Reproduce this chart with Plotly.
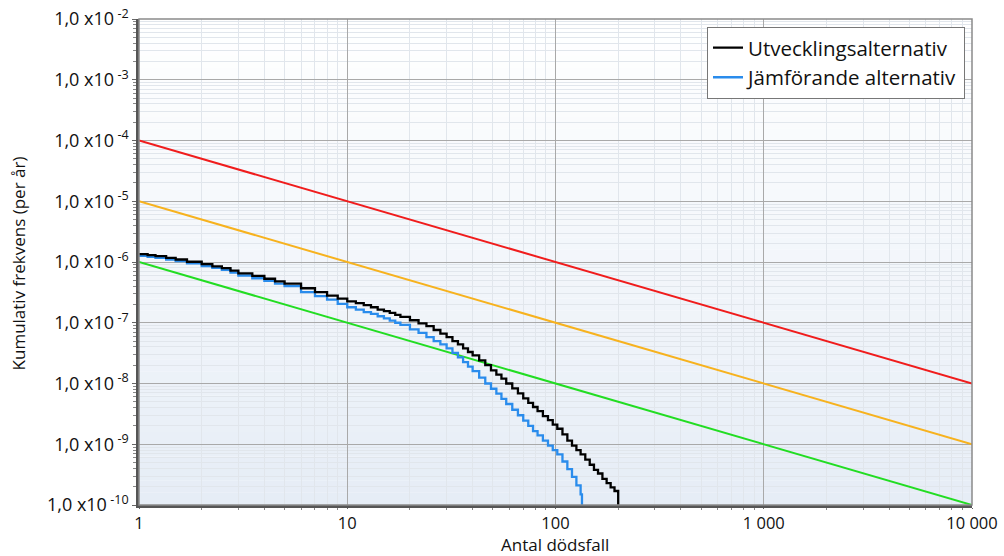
import plotly.graph_objects as go

# ---------------- data ----------------
black_x = [1, 1.1, 1.2, 1.35, 1.5, 1.7, 2, 2.25, 2.5, 2.75, 3, 3.5, 4, 4.5, 5, 6, 7, 8, 9, 10, 11, 12, 13,
           14, 15, 16, 17, 18, 20, 22, 24, 26, 28, 30, 32, 34, 36, 38, 40, 43, 46, 49, 52, 55, 58, 62,
           66, 70, 74, 78, 82, 87, 92, 97, 102, 108, 114, 120, 126, 132, 139, 146, 153, 160, 168, 176,
           184, 192, 200]
black_y = [1.35e-6, 1.30e-6, 1.25e-6, 1.17e-6, 1.10e-6, 1.01e-6, 9.2e-7, 8.5e-7, 7.9e-7, 7.2e-7, 6.5e-7,
           5.9e-7, 5.3e-7, 4.8e-7, 4.4e-7, 3.7e-7, 3.2e-7, 2.8e-7, 2.5e-7, 2.25e-7, 2.1e-7, 1.95e-7,
           1.8e-7, 1.65e-7, 1.55e-7, 1.45e-7, 1.35e-7, 1.25e-7, 1.1e-7, 9.8e-8, 8.8e-8, 7.6e-8, 6.6e-8,
           5.8e-8, 5.0e-8, 4.4e-8, 3.8e-8, 3.3e-8, 2.9e-8, 2.4e-8, 2.0e-8, 1.65e-8, 1.4e-8, 1.2e-8,
           1.0e-8, 8.3e-9, 6.9e-9, 5.7e-9, 4.8e-9, 4.1e-9, 3.5e-9, 2.9e-9, 2.5e-9, 2.1e-9, 1.8e-9,
           1.45e-9, 1.15e-9, 9.5e-10, 8.0e-10, 6.8e-10, 5.6e-10, 4.6e-10, 3.8e-10, 3.3e-10, 2.7e-10,
           2.3e-10, 1.95e-10, 1.7e-10, 1.0e-10]

blue_x = [1, 1.1, 1.2, 1.35, 1.5, 1.7, 2, 2.25, 2.5, 2.75, 3, 3.5, 4, 4.5, 5, 6, 7, 8, 9, 10, 11, 12, 13,
          14, 15, 16, 17, 18, 20, 22, 24, 26, 28, 30, 32, 34, 36, 38, 40, 43, 46, 49, 52, 55, 58, 62,
          66, 70, 74, 78, 82, 87, 92, 97, 102, 108, 114, 120, 126, 132, 134]
blue_y = [1.26e-6, 1.21e-6, 1.17e-6, 1.10e-6, 1.03e-6, 9.5e-7, 8.6e-7, 8.0e-7, 7.4e-7, 6.7e-7, 6.0e-7,
          5.4e-7, 4.9e-7, 4.4e-7, 4.0e-7, 3.2e-7, 2.75e-7, 2.4e-7, 2.05e-7, 1.8e-7, 1.65e-7, 1.5e-7,
          1.4e-7, 1.28e-7, 1.18e-7, 1.08e-7, 1.0e-7, 9.2e-8, 7.8e-8, 6.8e-8, 5.8e-8, 5.0e-8, 4.4e-8,
          3.8e-8, 3.2e-8, 2.7e-8, 2.25e-8, 1.9e-8, 1.6e-8, 1.25e-8, 1.0e-8, 8.2e-9, 6.8e-9, 5.6e-9,
          4.6e-9, 3.7e-9, 3.0e-9, 2.45e-9, 2.0e-9, 1.65e-9, 1.4e-9, 1.15e-9, 9.5e-10, 8.0e-10, 6.8e-10,
          5.2e-10, 3.9e-10, 2.9e-10, 2.1e-10, 1.5e-10, 1.0e-10]

ref_x = [1, 10000]
red_y = [1e-4, 1e-8]
orange_y = [1e-5, 1e-9]
green_y = [1e-6, 1e-10]

x_tickvals = [1, 10, 100, 1000, 10000]
x_ticktext = ["1", "10", "100", "1 000", "10 000"]
y_exponents = [-10, -9, -8, -7, -6, -5, -4, -3, -2]

series_names = ["Utvecklingsalternativ", "Jämförande alternativ"]
x_title = "Antal dödsfall"
y_title = "Kumulativ frekvens (per år)"

# ---------------- figure ----------------
fig = go.Figure()

fig.add_trace(go.Scatter(x=ref_x, y=red_y, mode="lines", line=dict(color="#f01c1c", width=2),
                         showlegend=False, hoverinfo="skip"))
fig.add_trace(go.Scatter(x=ref_x, y=orange_y, mode="lines", line=dict(color="#f7b21e", width=2),
                         showlegend=False, hoverinfo="skip"))
fig.add_trace(go.Scatter(x=ref_x, y=green_y, mode="lines", line=dict(color="#22dd22", width=2),
                         showlegend=False, hoverinfo="skip"))
fig.add_trace(go.Scatter(x=blue_x, y=blue_y, mode="lines", line=dict(color="#2a8cec", width=2.3, shape="hv"),
                         name=series_names[1]))
fig.add_trace(go.Scatter(x=black_x, y=black_y, mode="lines", line=dict(color="#000000", width=2.3, shape="hv"),
                         name=series_names[0]))

# background gradient bands (white at top -> light blue-grey at bottom)
n_bands = 40
top_rgb = (255, 255, 255)
bot_rgb = (230, 237, 246)
shapes = []
for i in range(n_bands):
    t = i / (n_bands - 1)
    c = tuple(round(top_rgb[k] + (bot_rgb[k] - top_rgb[k]) * t) for k in range(3))
    shapes.append(dict(type="rect", xref="x domain", yref="y domain", x0=0, x1=1,
                       y0=1 - (i + 1) / n_bands, y1=1 - i / n_bands,
                       fillcolor="rgb(%d,%d,%d)" % c, line=dict(width=0), layer="below"))
# plot border
shapes.append(dict(type="rect", xref="x domain", yref="y domain", x0=0, x1=1, y0=0, y1=1,
                   line=dict(color="#8a8a8a", width=1.5), fillcolor="rgba(0,0,0,0)", layer="above"))

# minor grid positions (2..9 within each decade)
x_minor = [m * 10 ** d for d in range(0, 4) for m in range(2, 10)]
y_minor = [m * 10.0 ** d for d in range(-10, -2) for m in range(2, 10)]

fig.update_layout(
    width=1004, height=556,
    margin=dict(l=139, r=32, t=19, b=51),
    paper_bgcolor="white",
    plot_bgcolor="rgba(0,0,0,0)",
    font=dict(family="Open Sans, DejaVu Sans, sans-serif", color="#111111"),
    shapes=shapes,
    legend=dict(x=0.9916, y=0.984, xanchor="right", yanchor="top",
                bgcolor="white", bordercolor="#777777", borderwidth=1,
                font=dict(size=20.5, family="Open Sans, sans-serif", color="#111"),
                traceorder="reversed", itemwidth=30, tracegroupgap=4),
    showlegend=True,
    annotations=[
        dict(text=x_title, xref="paper", yref="paper", x=0.4994, y=-0.082,
             xanchor="center", yanchor="middle", showarrow=False,
             font=dict(size=17, color="#111")),
        dict(text=y_title, xref="paper", yref="paper", x=-0.1453, y=0.497,
             xanchor="center", yanchor="middle", showarrow=False, textangle=-90,
             font=dict(size=17, color="#111")),
    ],
)

fig.update_xaxes(
    type="log", range=[0, 4], automargin=False,
    tickvals=x_tickvals, ticktext=x_ticktext,
    tickfont=dict(size=16.5, color="#111"),
    showgrid=True, gridcolor="#a9a9a9", gridwidth=1,
    minor=dict(tickmode="array", tickvals=x_minor, showgrid=True, gridcolor="#e1e6ec", gridwidth=1,
               ticks="outside", ticklen=2, tickcolor="#888"),
    ticks="outside", ticklen=1, tickcolor="#666",
    showline=True, linecolor="#555555", linewidth=2.5,
    zeroline=False,
)

fig.update_yaxes(
    type="log", range=[-10, -2], automargin=False,
    tickvals=[10.0 ** e for e in y_exponents],
    ticktext=["1,0 x10<sup>&nbsp;%d</sup>" % e for e in y_exponents],
    tickfont=dict(size=18, color="#111"),
    showgrid=True, gridcolor="#a9a9a9", gridwidth=1,
    minor=dict(tickmode="array", tickvals=y_minor, showgrid=True, gridcolor="#e1e6ec", gridwidth=1,
               ticks="outside", ticklen=3, tickcolor="#888"),
    ticks="outside", ticklen=4, tickcolor="#666",
    showline=True, linecolor="#555555", linewidth=2.5,
    zeroline=False,
)

fig.write_html("out.html")
